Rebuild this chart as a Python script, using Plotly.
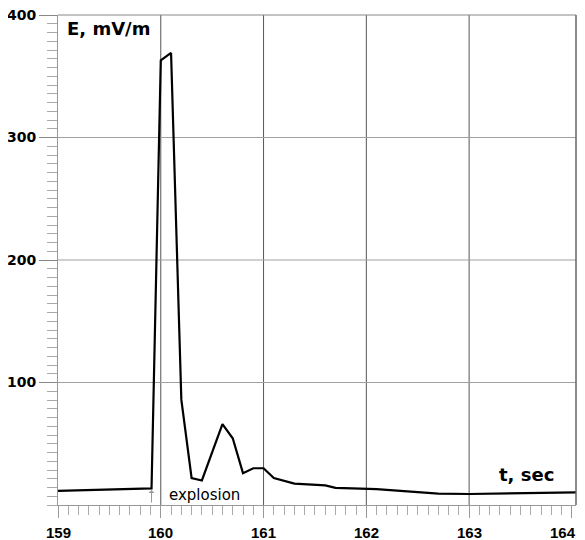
import plotly.graph_objects as go

# Data
t_sec = [159.0, 159.91, 160.0, 160.1, 160.2, 160.3, 160.4, 160.6, 160.7, 160.8,
         160.9, 161.0, 161.1, 161.3, 161.6, 161.7, 162.1, 162.6, 162.7, 163.0,
         163.3, 163.8, 164.04]
E_mv = [11.5, 13.5, 363, 369, 86, 22, 20, 66, 54.5, 26,
        30, 30, 22, 17.5, 16, 14, 13, 9.8, 9.3, 9.0,
        9.3, 9.8, 10.3]

x_ticks = [159, 160, 161, 162, 163, 164]
x_grid = [160, 161, 162, 163]
y_ticks = [100, 200, 300, 400]
y_grid = [100, 200, 300]
explosion_t = 159.91

FONT = "DejaVu Sans"
XFONT = "Liberation Sans"

fig = go.Figure()
fig.add_trace(go.Scatter(x=t_sec, y=E_mv, mode="lines",
                         line=dict(color="black", width=2.2), hoverinfo="skip"))

shapes = []
for g in x_grid:
    shapes.append(dict(type="line", xref="x", yref="paper", x0=g, x1=g, y0=0, y1=1,
                       line=dict(color="#555555", width=1), layer="below"))
for g in y_grid:
    shapes.append(dict(type="line", xref="paper", yref="y", x0=0, x1=1, y0=g, y1=g,
                       line=dict(color="#a0a0a0", width=1), layer="below"))
# frame: top and right
shapes.append(dict(type="line", xref="paper", yref="paper", x0=0, x1=1, y0=1, y1=1,
                   line=dict(color="#888888", width=1)))
shapes.append(dict(type="line", xref="paper", yref="paper", x0=1, x1=1, y0=0, y1=1,
                   line=dict(color="#666666", width=1.5)))

# x tick labels drawn as annotations so the last one can be kept inside the page
annotations = []
for v in x_ticks:
    last = v == x_ticks[-1]
    annotations.append(dict(text=str(v), xref="x", yref="paper", x=v, y=0,
                            xanchor="right" if last else "center", yanchor="top",
                            xshift=6 if last else 0, yshift=-17,
                            showarrow=False,
                            font=dict(family=XFONT, size=15, color="black", weight="bold")))

annotations += [
    dict(text="E, mV/m", xref="paper", yref="paper", x=0.014, y=0.997,
         xanchor="left", yanchor="top", showarrow=False,
         font=dict(family=FONT, size=18, color="black", weight="bold")),
    dict(text="t, sec", xref="paper", yref="paper", x=0.961, y=0.062,
         xanchor="right", yanchor="middle", showarrow=False,
         font=dict(family=FONT, size=18, color="black", weight="bold")),
    dict(text="explosion", xref="x", yref="y", x=160.43, y=8.5,
         xanchor="center", yanchor="middle", showarrow=False,
         font=dict(family=FONT, size=15, color="black")),
    dict(text="", xref="x", yref="y", x=explosion_t, y=12.2,
         showarrow=True, ax=0, ay=14, arrowhead=1, arrowsize=1,
         arrowwidth=1, arrowcolor="#999999", standoff=0),
]

# page body has an 8px default margin, so the figure is 8px smaller
fig.update_layout(
    width=577, height=532,
    margin=dict(l=50, r=9, t=7, b=35),
    paper_bgcolor="white", plot_bgcolor="white",
    showlegend=False,
    shapes=shapes,
    xaxis=dict(range=[159, 164.04], tickvals=x_ticks, showticklabels=False,
               automargin=False,
               showgrid=False, zeroline=False,
               showline=True, linecolor="#999999", linewidth=1,
               ticks="outside", ticklen=12, tickcolor="#999999", tickwidth=1,
               minor=dict(dtick=0.1, tick0=159, ticks="outside", ticklen=9,
                          tickcolor="#aaaaaa", showgrid=False)),
    yaxis=dict(range=[0, 400], tickvals=y_ticks, ticktext=[str(v) for v in y_ticks],
               automargin=False, ticklabeloverflow="allow",
               showgrid=False, zeroline=False,
               showline=True, linecolor="#999999", linewidth=1,
               ticks="outside", ticklen=18, tickcolor="#888888", tickwidth=1,
               tickfont=dict(family=FONT, size=14, color="black", weight="bold"),
               minor=dict(dtick=100 / 14, tick0=0, ticks="outside", ticklen=10,
                          tickcolor="#aaaaaa", showgrid=False)),
    annotations=annotations,
)

fig.write_html("out.html")
